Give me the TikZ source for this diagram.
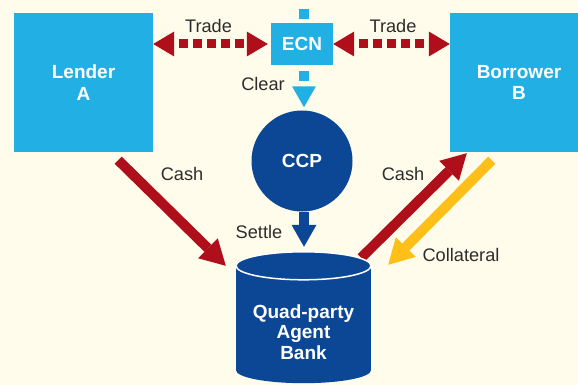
\documentclass[tikz,border=0pt]{standalone}
\usepackage{fontspec}
\setmainfont{Liberation Sans}
\usepackage{tikz}
\usetikzlibrary{arrows.meta}

\definecolor{cream}{RGB}{255,252,235}
\definecolor{skyblue}{RGB}{34,176,228}
\definecolor{navyblue}{RGB}{12,71,149}
\definecolor{tradered}{RGB}{174,15,26}
\definecolor{collyellow}{RGB}{253,191,24}
\definecolor{labelgray}{RGB}{45,45,45}

\begin{document}
\begin{tikzpicture}[x=1pt,y=-1pt,
    party/.style={fill=skyblue, text=white, font=\bfseries\fontsize{19}{21.5}\selectfont, align=center, inner sep=0pt},
    lbl/.style={text=labelgray, font=\fontsize{18.2}{20}\selectfont, inner sep=0pt},
    trade/.style={draw=tradered, line width=9pt, dash pattern=on 9pt off 5pt, dash phase=9pt,
        {Triangle[length=21pt,width=25pt,line width=0pt]}-{Triangle[length=21pt,width=25pt,line width=0pt]}},
    flow/.style={line width=10pt, -{Triangle[length=25pt,width=28pt,line width=0pt]}}
    ]
    \useasboundingbox (0,0) rectangle (578,385);
    \fill[cream] (0,0) rectangle (578,385);

    % draws parties
    \node[party, minimum width=139pt, minimum height=139pt] (lender) at (83.5,82.5) {Lender\\A};
    \node[party, minimum width=138pt, minimum height=139pt] (borrower) at (519,82.5) {Borrower\\B};
    \node[circle, fill=navyblue, text=white, font=\bfseries\fontsize{19}{21}\selectfont,
        minimum size=101pt, inner sep=0pt] (ccp) at (302,161) {CCP};
    \node[minimum width=135pt, minimum height=104pt, inner sep=0pt] (bank) at (303.5,318) {};

    % draws clearing line (behind ECN)
    \coordinate (feed) at (304,9);
    \draw[draw=skyblue, line width=10pt, dash pattern=on 10pt off 5.5pt,
        -{Triangle[length=21pt,width=24pt,line width=0pt]}] (feed) -- ([xshift=2pt,yshift=3pt]ccp.north);
    \node[party, minimum width=62pt, minimum height=42pt] (ecn) at (302,44) {ECN};

    % draws trade arrows
    \draw[trade] (ecn.west -| lender.east) -- ([xshift=-3pt]ecn.west);
    \draw[trade] (ecn.east) -- (ecn.east -| borrower.west);

    % draws settle arrow
    \draw[draw=navyblue, line width=10pt, -{Triangle[length=22pt,width=25pt,line width=0pt]}]
        ([xshift=2pt]ccp.south) -- ([xshift=0.5pt,yshift=19pt]bank.north);

    % draws cash and collateral
    \draw[flow, draw=tradered] ([xshift=-35pt,yshift=-8pt]lender.south east) -- ([xshift=-10pt]bank.north west);
    \draw[flow, draw=tradered] ([xshift=-10pt,yshift=8pt]bank.north east) -- ([xshift=17pt,yshift=-1pt]borrower.south west);
    \draw[flow, draw=collyellow] ([xshift=42pt,yshift=-8pt]borrower.south west) -- ([xshift=17pt,yshift=1pt]bank.north east);

    % draws agent bank
    \fill[navyblue] (bank.north west) rectangle (bank.south east);
    \fill[navyblue] (bank.south) ellipse [x radius=67.5, y radius=13];
    \draw[white, fill=navyblue, line width=1.5pt] (bank.north) ellipse [x radius=67.5, y radius=14];
    \node[text=white, font=\bfseries\fontsize{19}{20.5}\selectfont, align=center, inner sep=0pt] (banktext) at (303.5,332) {Quad-party\\Agent\\Bank};

    % labels flows
    \node[lbl] (tradeL) at (208.5,26) {Trade};
    \node[lbl] (tradeR) at (393,26) {Trade};
    \node[lbl] (clear) at (263,84) {Clear};
    \node[lbl] (settle) at (259,232) {Settle};
    \node[lbl] (cashL) at (182,174) {Cash};
    \node[lbl] (cashR) at (403,174) {Cash};
    \node[lbl] (coll) at (461,255) {Collateral};
\end{tikzpicture}
\end{document}
